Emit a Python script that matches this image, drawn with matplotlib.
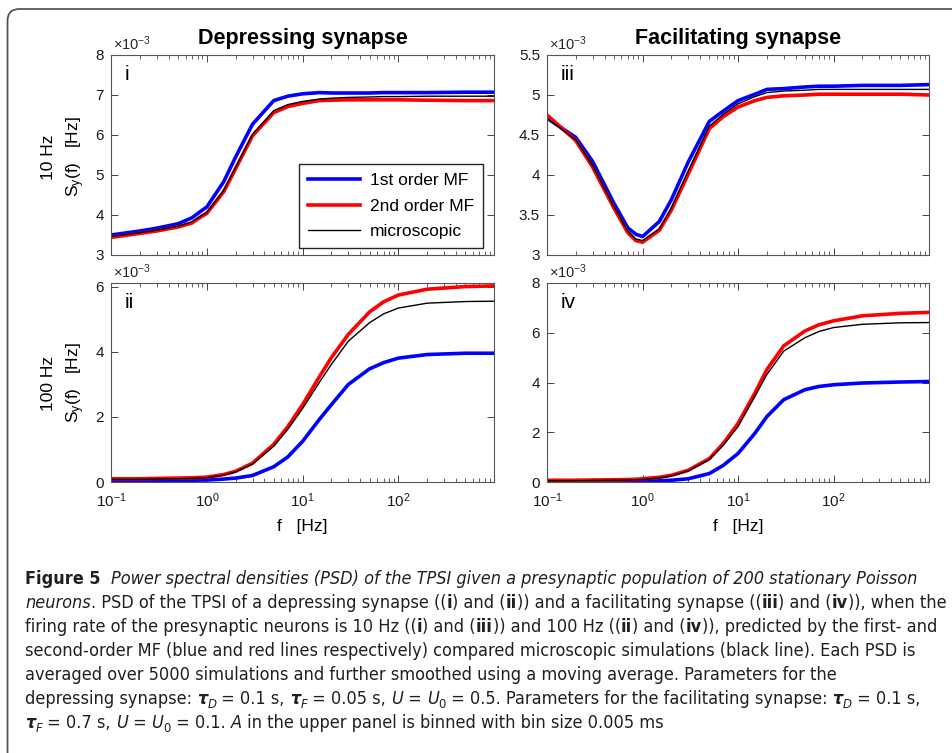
import numpy as np
import matplotlib
matplotlib.use('Agg')
import matplotlib.pyplot as plt
from matplotlib import font_manager
from matplotlib.patches import FancyBboxPatch
from matplotlib.transforms import IdentityTransform
from matplotlib.ticker import FixedLocator, FuncFormatter, LogLocator, NullFormatter

plt.rcParams['font.family'] = ['Liberation Sans', 'DejaVu Sans']
plt.rcParams['mathtext.fontset'] = 'custom'
plt.rcParams['mathtext.rm'] = 'Liberation Sans'
plt.rcParams['mathtext.it'] = 'Liberation Sans:italic'
plt.rcParams['mathtext.bf'] = 'Liberation Sans:bold'

#%% data: frequency (Hz) and PSD S_y(f) in units of 1e-3 Hz
freq = [0.1, 0.2, 0.3, 0.5, 0.7, 0.85, 1, 1.5, 2, 3, 5, 7, 10, 15, 20, 30, 50, 70, 100, 200, 500, 995]

# (i) depressing synapse, 10 Hz
blue_i = [3.50, 3.60, 3.67, 3.78, 3.93, 4.08, 4.20, 4.83, 5.45, 6.27, 6.86, 6.97, 7.03, 7.06, 7.05, 7.05, 7.05, 7.06, 7.06, 7.06, 7.07, 7.07]
red_i = [3.44, 3.54, 3.60, 3.70, 3.80, 3.94, 4.04, 4.58, 5.16, 5.98, 6.56, 6.71, 6.79, 6.86, 6.87, 6.88, 6.88, 6.88, 6.88, 6.87, 6.86, 6.86]
black_i = [3.46, 3.56, 3.62, 3.72, 3.83, 3.97, 4.07, 4.62, 5.20, 6.02, 6.61, 6.76, 6.84, 6.90, 6.92, 6.94, 6.95, 6.96, 6.96, 6.97, 6.97, 6.97]

# (ii) depressing synapse, 100 Hz
blue_ii = [0.05, 0.05, 0.05, 0.05, 0.05, 0.06, 0.06, 0.09, 0.12, 0.20, 0.47, 0.77, 1.25, 1.93, 2.38, 3.00, 3.48, 3.67, 3.81, 3.92, 3.96, 3.96]
red_ii = [0.10, 0.10, 0.11, 0.12, 0.13, 0.14, 0.15, 0.23, 0.33, 0.58, 1.16, 1.70, 2.38, 3.24, 3.83, 4.54, 5.23, 5.54, 5.75, 5.93, 6.01, 6.03]
black_ii = [0.08, 0.08, 0.09, 0.10, 0.11, 0.12, 0.13, 0.21, 0.31, 0.55, 1.10, 1.62, 2.26, 3.07, 3.62, 4.33, 4.90, 5.17, 5.35, 5.50, 5.55, 5.56]

# (iii) facilitating synapse, 10 Hz
blue_iii = [4.71, 4.47, 4.17, 3.65, 3.34, 3.26, 3.23, 3.42, 3.69, 4.16, 4.67, 4.80, 4.93, 5.01, 5.07, 5.08, 5.10, 5.11, 5.11, 5.12, 5.12, 5.13]
red_iii = [4.75, 4.43, 4.10, 3.59, 3.28, 3.18, 3.16, 3.31, 3.56, 4.01, 4.58, 4.73, 4.85, 4.93, 4.97, 4.99, 5.00, 5.01, 5.01, 5.01, 5.01, 5.00]
black_iii = [4.71, 4.44, 4.12, 3.61, 3.30, 3.20, 3.18, 3.33, 3.59, 4.05, 4.61, 4.76, 4.89, 4.98, 5.03, 5.05, 5.06, 5.07, 5.07, 5.07, 5.07, 5.07]

# (iv) facilitating synapse, 100 Hz
blue_iv = [0.02, 0.02, 0.02, 0.02, 0.02, 0.03, 0.03, 0.05, 0.07, 0.13, 0.34, 0.67, 1.15, 1.96, 2.63, 3.31, 3.71, 3.84, 3.91, 3.98, 4.02, 4.04]
red_iv = [0.07, 0.07, 0.08, 0.09, 0.10, 0.11, 0.13, 0.19, 0.27, 0.47, 0.94, 1.55, 2.36, 3.58, 4.52, 5.47, 6.07, 6.32, 6.48, 6.68, 6.78, 6.82]
black_iv = [0.05, 0.05, 0.06, 0.07, 0.08, 0.09, 0.10, 0.16, 0.24, 0.44, 0.90, 1.48, 2.23, 3.44, 4.32, 5.26, 5.80, 6.05, 6.21, 6.34, 6.40, 6.41]

labels = ['1st order MF', '2nd order MF', 'microscopic']
xticks = [0.1, 1, 10, 100]

#%% figure
W, H = 952, 753
fig = plt.figure(figsize=(W / 100, H / 100), dpi=100)
fig.patch.set_facecolor('white')


def px_axes(x0, y0, x1, y1):
    return fig.add_axes([x0 / W, 1 - y1 / H, (x1 - x0) / W, (y1 - y0) / H])


ax1 = px_axes(111, 55, 494, 255)
ax2 = px_axes(111, 283, 494, 482)
ax3 = px_axes(547, 55, 929, 255)
ax4 = px_axes(547, 283, 929, 482)

panels = [
    (ax1, blue_i, red_i, black_i, (3, 8), [3, 4, 5, 6, 7, 8], 'i'),
    (ax2, blue_ii, red_ii, black_ii, (0, 6.12), [0, 2, 4, 6], 'ii'),
    (ax3, blue_iii, red_iii, black_iii, (3, 5.5), [3, 3.5, 4, 4.5, 5, 5.5], 'iii'),
    (ax4, blue_iv, red_iv, black_iv, (0, 8), [0, 2, 4, 6, 8], 'iv'),
]

for ax, b, r, k, ylim, yt, tag in panels:
    ax.plot(freq, b, color=(0, 0, 1), lw=2.6, label=labels[0])
    ax.plot(freq, r, color=(1, 0, 0), lw=2.6, label=labels[1])
    ax.plot(freq, k, color='black', lw=1.0, label=labels[2])
    ax.set_xscale('log')
    ax.set_xlim(0.1, 995)
    ax.set_ylim(*ylim)
    ax.yaxis.set_major_locator(FixedLocator(yt))
    ax.yaxis.set_major_formatter(FuncFormatter(lambda v, p: '%g' % v))
    ax.xaxis.set_major_locator(FixedLocator(xticks))
    ax.xaxis.set_minor_locator(LogLocator(base=10, subs=np.arange(2, 10)))
    ax.xaxis.set_minor_formatter(NullFormatter())
    ax.tick_params(which='both', direction='in', top=True, right=True,
                   color='#262626', labelcolor='#1a1a1a', labelsize=11)
    ax.tick_params(which='major', length=5, width=0.6)
    ax.tick_params(axis='y', pad=5)
    ax.tick_params(axis='x', pad=7)
    ax.tick_params(which='minor', length=3, width=0.5)
    for s in ax.spines.values():
        s.set_color('#555555')
        s.set_linewidth(0.8)
    ax.text(0.035, 0.9, tag, transform=ax.transAxes, fontsize=15, va='center', ha='left')
    ax.text(0.005, 1.012, '×10$^{-3}$', transform=ax.transAxes, fontsize=10.5,
            va='bottom', ha='left', color='#262626')

ax1.tick_params(labelbottom=False)
ax3.tick_params(labelbottom=False)

ax1.legend(loc='lower right', bbox_to_anchor=(0.971, 0.035), borderaxespad=0,
           fontsize=12.5, frameon=True, fancybox=False, edgecolor='#262626', framealpha=1,
           handlelength=3.0, borderpad=0.5, labelspacing=0.6, handletextpad=0.6)

ax1.set_title('Depressing synapse', fontsize=15.5, fontweight='bold', pad=8)
ax3.set_title('Facilitating synapse', fontsize=15.5, fontweight='bold', pad=8)

ax2.set_xlabel('f   [Hz]', fontsize=12.5, labelpad=6)
ax4.set_xlabel('f   [Hz]', fontsize=12.5, labelpad=6)

fig.text(64 / W, 1 - 157 / H, '10 Hz\nS$_\\mathregular{y}$(f)   [Hz]', rotation=90,
         ha='center', va='center', fontsize=12.5, linespacing=1.5, multialignment='center')
fig.text(64 / W, 1 - 383 / H, '100 Hz\nS$_\\mathregular{y}$(f)   [Hz]', rotation=90,
         ha='center', va='center', fontsize=12.5, linespacing=1.5, multialignment='center')

# rounded frame around the figure
frame = FancyBboxPatch((0.075, -1.0), 12, 8.44, boxstyle='round,pad=0,rounding_size=0.12',
                       transform=fig.dpi_scale_trans, fill=False, edgecolor='#555555',
                       lw=1.3, clip_on=False)
fig.patches.append(frame)

#%% caption
names = {f.name for f in font_manager.fontManager.ttflist}
cap_family, cap_stretch = 'Liberation Sans', 'normal'
if 'Liberation Sans Narrow' in names:
    cap_family = 'Liberation Sans Narrow'
elif any(f.name == 'DejaVu Sans' and f.stretch == 'condensed' for f in font_manager.fontManager.ttflist):
    cap_family, cap_stretch = 'DejaVu Sans', 'condensed'
cap_color = '#231f20'

caption = [
    [('Figure 5', 'b'), ('  ', 'r'),
     ('Power spectral densities (PSD) of the TPSI given a presynaptic population of 200 stationary Poisson', 'i')],
    [('neurons', 'i'), ('. PSD of the TPSI of a depressing synapse ((', 'r'), ('i', 'b'), (') and (', 'r'),
     ('ii', 'b'), (')) and a facilitating synapse ((', 'r'), ('iii', 'b'), (') and (', 'r'), ('iv', 'b'),
     (')), when the', 'r')],
    [('firing rate of the presynaptic neurons is 10 Hz ((', 'r'), ('i', 'b'), (') and (', 'r'), ('iii', 'b'),
     (')) and 100 Hz ((', 'r'), ('ii', 'b'), (') and (', 'r'), ('iv', 'b'),
     (')), predicted by the first- and', 'r')],
    [('second-order MF (blue and red lines respectively) compared microscopic simulations (black line). Each PSD is', 'r')],
    [('averaged over 5000 simulations and further smoothed using a moving average. Parameters for the', 'r')],
    [('depressing synapse: ', 'r'), ('τ', 'bi'), ('D', 'si'), (' = 0.1 s, ', 'r'), ('τ', 'bi'), ('F', 'si'),
     (' = 0.05 s, ', 'r'), ('U', 'i'), (' = ', 'r'), ('U', 'i'), ('0', 's'),
     (' = 0.5. Parameters for the facilitating synapse: ', 'r'), ('τ', 'bi'), ('D', 'si'), (' = 0.1 s,', 'r')],
    [('τ', 'bi'), ('F', 'si'), (' = 0.7 s, ', 'r'), ('U', 'i'), (' = ', 'r'), ('U', 'i'), ('0', 's'),
     (' = 0.1. ', 'r'), ('A', 'i'), (' in the upper panel is binned with bin size 0.005 ms', 'r')],
]

renderer = fig.canvas.get_renderer()


def piece_kw(style, size):
    kw = dict(family=cap_family, fontstretch=cap_stretch, fontsize=size, color=cap_color)
    if 'b' in style:
        kw['fontweight'] = 'bold'
    if 'i' in style:
        kw['fontstyle'] = 'italic'
    if style.startswith('s'):
        kw['fontsize'] = size * 0.72
    return kw


def text_width(s, kw):
    t1 = fig.text(0, 0, '|' + s + '|', transform=IdentityTransform(), **kw)
    t2 = fig.text(0, 0, '||', transform=IdentityTransform(), **kw)
    w = t1.get_window_extent(renderer).width - t2.get_window_extent(renderer).width
    t1.remove()
    t2.remove()
    return w


def line_width(pieces, size):
    return sum(text_width(s, piece_kw(st, size)) for s, st in pieces)


widest = max(line_width(caption[k], 10) for k in (1, 2, 3))
cap_size = 10 * 920 / widest

for k, pieces in enumerate(caption):
    x = 25
    y = H - (584 + 24 * k)
    for s, st in pieces:
        kw = piece_kw(st, cap_size)
        dy = -0.22 * cap_size * 100 / 72 if st.startswith('s') else 0
        fig.text(x, y + dy, s, transform=IdentityTransform(), va='baseline', ha='left', **kw)
        x += text_width(s, kw)

fig.savefig('out.png', dpi=100)
